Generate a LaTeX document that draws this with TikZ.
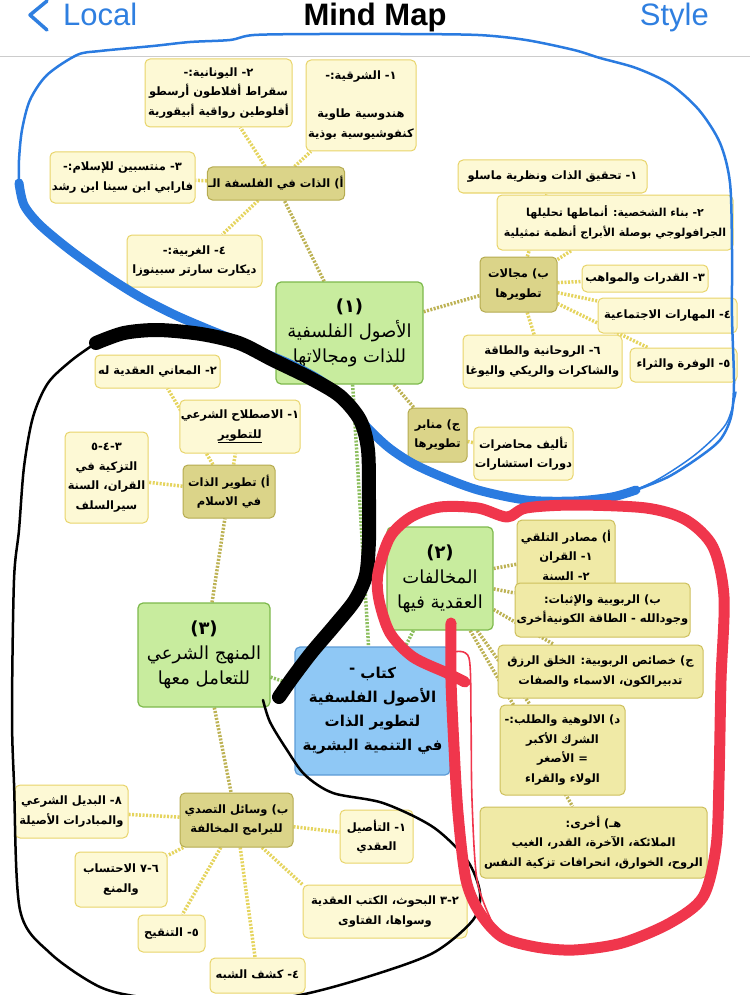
\documentclass[tikz,border=0pt]{standalone}
\usepackage{fontspec}
\setmainfont{Liberation Sans}
\newfontfamily\arfont[Script=Arabic]{DejaVu Sans}
\TeXXeTstate=1
\newcommand{\rl}[1]{\beginR #1\endR}
\usetikzlibrary{positioning}
\pgfdeclarelayer{links}
\pgfsetlayers{links,main}
\definecolor{leaffill}{HTML}{FDF9D5}
\definecolor{leafline}{HTML}{E8D46A}
\definecolor{midfill}{HTML}{DBD489}
\definecolor{midline}{HTML}{B5AB50}
\definecolor{subfill}{HTML}{F0EAA6}
\definecolor{subline}{HTML}{CDBF5C}
\definecolor{topicfill}{HTML}{C8EC9E}
\definecolor{topicline}{HTML}{7DB94C}
\definecolor{rootfill}{HTML}{8FC8F5}
\definecolor{rootline}{HTML}{5C9BD6}
\definecolor{twigcol}{HTML}{E5D45E}
\definecolor{limbcol}{HTML}{BDB254}
\definecolor{trunkcol}{HTML}{8CBE5E}
\definecolor{iosblue}{HTML}{2F7FE0}
\definecolor{penblue}{HTML}{2A7BE0}
\definecolor{penred}{HTML}{F0364C}

\begin{document}
\begin{tikzpicture}[x=1pt,y=-1pt,
    box/.style={rounded corners=5pt,align=center,inner sep=1pt,line width=1pt,
      font=\arfont\bfseries\fontsize{11.5}{19.5}\selectfont},
    sz/.style 2 args={minimum width=#1pt,minimum height=#2pt},
    leaf/.style={box,fill=leaffill,draw=leafline},
    mid/.style={box,fill=midfill,draw=midline},
    sub/.style={box,fill=subfill,draw=subline},
    topic/.style={box,fill=topicfill,draw=topicline,line width=1.2pt,
      font=\arfont\fontsize{18}{25}\selectfont},
    root/.style={box,fill=rootfill,draw=rootline,line width=1.2pt,
      font=\arfont\bfseries\fontsize{15}{24}\selectfont},
    link/.style={line width=3.5pt,dash pattern=on 2pt off 1.5pt},
    twig/.style={link,draw=twigcol},
    limb/.style={link,draw=limbcol},
    trunk/.style={link,draw=trunkcol},
    pen/.style={line cap=round,line join=round}]
  \useasboundingbox (0,0) rectangle (750,995);

  % header bar
  \draw[iosblue,line width=3.5pt,pen] (47,1) -- (30,15) -- (47,30);
  \node[anchor=base west,inner sep=0pt,text=iosblue,font=\fontsize{31}{31}\selectfont] (local) at (63,26) {Local};
  \node[anchor=base,inner sep=0pt,font=\bfseries\fontsize{31}{31}\selectfont] (title) at (375,26) {Mind Map};
  \node[anchor=base east,inner sep=0pt,text=iosblue,font=\fontsize{31}{31}\selectfont] (stylebtn) at (709,26) {Style};
  \draw[black!20,line width=1pt] (0,57) -- (750,57);

  % main topics
  \node[root,sz={155}{128}] (book) at (372.5,711)
    {\rl{كتاب \raisebox{5pt}{-}}\\\rl{الأصول الفلسفية}\\\rl{لتطوير الذات}\\\rl{في التنمية البشرية}};
  \node[topic,sz={147}{102}] (origins) at (349.5,333)
    {{\bfseries (١)}\\\rl{الأصول الفلسفية}\\\rl{للذات ومجالاتها}};
  \node[topic,sz={106}{103}] (breaches) at (440,578.5)
    {{\bfseries (٢)}\\\rl{المخالفات}\\\rl{العقدية فيها}};
  \node[topic,sz={132}{104}] (method) at (204,655)
    {{\bfseries (٣)}\\\rl{المنهج الشرعي}\\\rl{للتعامل معها}};

  % (1) self in philosophy
  \node[mid,sz={132}{33}] (selfphil) at (276,183.5) {\rl{أ) الذات في الفلسفة الـ}};
  \node[leaf,sz={110}{91}] (east) at (361,105.5)
    {\rl{١- الشرقية:-}\\[19pt]\rl{هندوسية طاوية}\\\rl{كنفوشيوسية بوذية}};
  \node[leaf,sz={147}{68}] (greek) at (218.5,93)
    {\rl{٢- اليونانية:-}\\\rl{سقراط أفلاطون أرسطو}\\\rl{أفلوطين رواقية أبيقورية}};
  \node[leaf,sz={145}{51}] (muslim) at (122.5,177.5)
    {\rl{٣- منتسبين للإسلام:-}\\\rl{فارابي ابن سينا ابن رشد}};
  \node[leaf,sz={135}{52}] (west) at (194.5,261)
    {\rl{٤- الغربية:-}\\\rl{ديكارت سارتر سبينوزا}};

  % (1) fields
  \node[mid,sz={77}{55}] (fields) at (518.5,284.5) {\rl{ب) مجالات}\\\rl{تطويرها}};
  \node[leaf,sz={189}{33}] (maslow) at (552.5,176.5) {\rl{١- تحقيق الذات ونظرية ماسلو}};
  \node[leaf,sz={236}{55},font=\arfont\bfseries\fontsize{11}{19.5}\selectfont] (persona) at (615,222.5)
    {\rl{٢- بناء الشخصية: أنماطها تحليلها}\\\rl{الجرافولوجي بوصلة الأبراج أنظمة تمثيلية}};
  \node[leaf,sz={126}{27}] (talents) at (645,278.5) {\rl{٣- القدرات والمواهب}};
  \node[leaf,sz={139}{35}] (social) at (667.5,315.5) {\rl{٤- المهارات الاجتماعية}};
  \node[leaf,sz={107}{34}] (wealth) at (683.5,365) {\rl{٥- الوفرة والثراء}};
  \node[leaf,sz={159}{53}] (spirit) at (542.5,361.5)
    {\rl{٦- الروحانية والطاقة}\\\rl{والشاكرات والريكي واليوغا}};

  % (1) venues
  \node[mid,sz={59}{54}] (venues) at (437.5,435) {\rl{ج) منابر}\\\rl{تطويرها}};
  \node[leaf,sz={97}{53}] (lectures) at (523.5,453.5) {\rl{تأليف محاضرات}\\\rl{دورات استشارات}};

  % (2) creed
  \node[sub,sz={98}{70}] (sources) at (566,555) {\rl{أ) مصادر التلقي}\\\rl{١- القران}\\\rl{٢- السنة}};
  \node[sub,sz={175}{54}] (lordship) at (602.5,610)
    {\rl{ب) الربوبية والإثبات:}\\\rl{وجودالله - الطاقة الكونيةأخرى}};
  \node[sub,sz={205}{53}] (traits) at (600.5,671.5)
    {\rl{ج) خصائص الربوبية: الخلق الرزق}\\\rl{تدبيرالكون، الاسماء والصفات}};
  \node[sub,sz={125}{90}] (worship) at (562.5,750)
    {\rl{د) الالوهية والطلب:-}\\\rl{الشرك الأكبر}\\\rl{= الأصغر}\\\rl{الولاء والقراء}};
  \node[sub,sz={227}{71}] (others) at (593.5,842.5)
    {\rl{هـ) أخرى:}\\\rl{الملائكة، الآخرة، القدر، الغيب}\\\rl{الروح، الخوارق، انحرافات تزكية النفس}};

  % (3) self development in islam
  \node[mid,sz={92}{53}] (islamdev) at (229,491.5) {\rl{أ) تطوير الذات}\\\rl{في الاسلام}};
  \node[leaf,sz={106}{53}] (sharia) at (240,426.5) {\rl{١- الاصطلاح الشرعي}\\\rl{\underline{للتطوير}}};
  \node[leaf,sz={125}{33}] (meanings) at (157.5,371.5) {\rl{٢- المعاني العقدية له}};
  \node[leaf,sz={83}{91}] (tazkiya) at (106.5,477.5)
    {\rl{٣-٤-٥}\\\rl{التزكية في}\\\rl{القران، السنة}\\\rl{سيرالسلف}};

  % (3) means of response
  \node[mid,sz={113}{54}] (tools) at (236.5,820) {\rl{ب) وسائل التصدي}\\\rl{للبرامج المخالفة}};
  \node[leaf,sz={73}{53}] (rooting) at (376.5,836.5) {\rl{١- التأصيل}\\\rl{العقدي}};
  \node[leaf,sz={164}{53}] (research) at (385,911.5)
    {\rl{٢-٣ البحوث، الكتب العقدية}\\\rl{وسواها، الفتاوى}};
  \node[leaf,sz={95}{35}] (doubts) at (257.5,975.5) {\rl{٤- كشف الشبه}};
  \node[leaf,sz={67}{37}] (revise) at (171.5,933.5) {\rl{٥- التنقيح}};
  \node[leaf,sz={92}{55}] (hisba) at (121,879.5) {\rl{٦-٧ الاحتساب}\\\rl{والمنع}};
  \node[leaf,sz={113}{53}] (alternative) at (71.5,811.5)
    {\rl{٨- البديل الشرعي}\\\rl{والمبادرات الأصيلة}};

  % connectors
  \begin{pgfonlayer}{links}
    \draw[trunk] (origins) -- (book);
    \draw[trunk] (breaches) -- (book);
    \draw[trunk] (method) -- (book);
    \draw[limb] (origins) -- (selfphil);
    \draw[twig] (selfphil) -- (east);
    \draw[twig] (selfphil) -- (greek);
    \draw[twig] (selfphil) -- (muslim);
    \draw[twig] (selfphil) -- (west);
    \draw[limb] (origins) -- (fields);
    \draw[twig] (fields) -- (maslow);
    \draw[twig] (fields) -- (persona);
    \draw[twig] (fields) -- (talents);
    \draw[twig] (fields) -- (social);
    \draw[twig] (fields) -- (wealth);
    \draw[twig] (fields) -- (spirit);
    \draw[limb] (origins) -- (venues);
    \draw[twig] (venues) -- (lectures);
    \draw[limb] (breaches) -- (sources);
    \draw[limb] (breaches) -- (lordship);
    \draw[limb] (breaches) -- (traits);
    \draw[limb] (breaches) -- (worship);
    \draw[limb] (breaches) -- (others);
    \draw[limb] (method) -- (islamdev);
    \draw[twig] (islamdev) -- (sharia);
    \draw[twig] (islamdev) -- (meanings);
    \draw[twig] (islamdev) -- (tazkiya);
    \draw[limb] (method) -- (tools);
    \draw[twig] (tools) -- (alternative);
    \draw[twig] (tools) -- (rooting);
    \draw[twig] (tools.-47) -- (research.north west);
    \draw[twig] (tools) -- (doubts);
    \draw[twig] (tools) -- (revise);
    \draw[twig] (tools) -- (hisba);
  \end{pgfonlayer}

  % hand-drawn marks
  \draw[penblue,line width=2.5pt,pen] plot[smooth] coordinates {(19,183) (19,160) (22,130) (30,100)
    (47,75) (77,55) (100,51) (153,46) (190,42) (230,40) (254,35) (320,34) (400,34) (478,35)
    (526,40) (574,50) (600,58) (636,68) (670,84) (699,110) (720,143) (730,183) (732,250)
    (732,317) (734,383) (731,417) (720,440) (698,458) (668,477) (636,490)};
  \draw[penblue,line width=1.5pt,pen] plot[smooth] coordinates {(612,499) (655,481) (696,454) (726,424) (736,392)};
  \draw[penblue,line width=9pt,pen] plot[smooth] coordinates {(19,183) (24,205) (40,225) (70,250)
    (105,275) (140,297) (175,315) (210,330) (240,342) (262,352) (290,364) (320,380) (345,400)
    (365,425) (388,447) (412,463) (440,476) (478,490) (526,500) (574,501) (612,497) (636,490)};
  \draw[black,line width=2.5pt,pen] plot[smooth] coordinates {(96,343) (72,360) (48,383) (33,417)
    (24,467) (19,530) (14,580) (12,713) (14,783) (20,910) (50,953) (100,987) (147,998)
    (220,1006) (300,995) (367,977) (433,953) (473,920) (480,893) (467,860) (433,827)
    (383,803) (333,793) (305,775) (287,750) (270,722) (263,700)};
  \draw[black,line width=14pt,pen] plot[smooth] coordinates {(96,343) (124,333) (158,330)
    (201,334) (239,343) (273,360) (310,378) (340,396) (360,420) (368,450) (369,500)
    (369,540) (366,575) (355,600) (335,625) (312,652) (293,677) (279,697)};
  \draw[penred,line width=11pt,pen] plot[smooth] coordinates {(451,623) (451,680) (454,747)
    (458,813) (466,880) (480,913) (502,937) (536,947) (574,950) (622,943) (670,923) (703,897)
    (716,847) (719,780) (721,680) (724,597) (713,547) (686,520) (646,508) (574,505) (526,508)
    (507,517) (478,508) (440,507) (411,517) (390,537) (378,573) (379,600) (390,633) (413,657)
    (447,673) (465,682)};
  \draw[penred,line width=1.6pt,pen] plot[smooth] coordinates {(454,652) (469,658) (471,720)
    (472,800) (477,880) (492,922)};
\end{tikzpicture}
\end{document}
